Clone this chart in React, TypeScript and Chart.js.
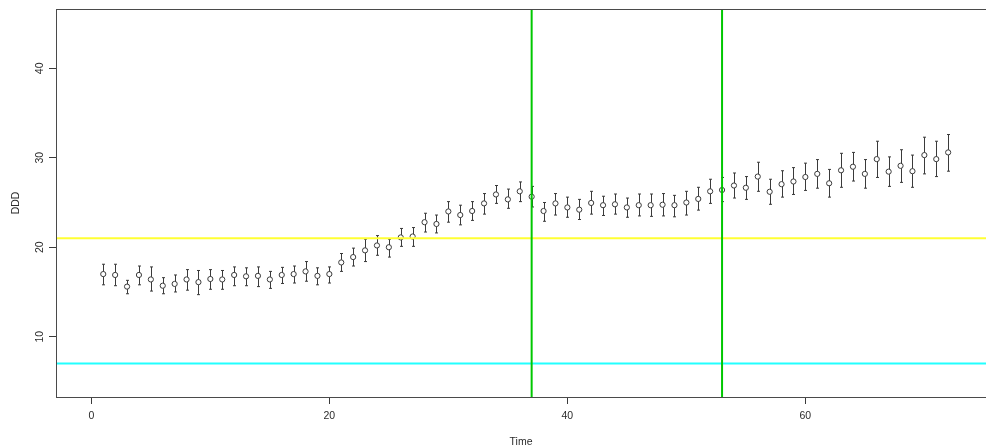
import { useEffect, useRef } from "react";
import { Chart, registerables } from "chart.js";

Chart.register(...registerables);

// Mean DDD per time step, with the lower and upper ends of each interval
const meanDDD = [
  17.0, 16.9, 15.6, 16.9, 16.4, 15.7, 15.9, 16.4, 16.1, 16.45,
  16.4, 16.9, 16.75, 16.8, 16.4, 16.9, 17.0, 17.3, 16.8, 17.0,
  18.3, 18.9, 19.65, 20.2, 20.0, 21.1, 21.2, 22.8, 22.6, 24.0,
  23.6, 24.05, 24.9, 25.9, 25.35, 26.25, 25.65, 24.05, 24.9, 24.45,
  24.2, 24.95, 24.7, 24.8, 24.45, 24.7, 24.7, 24.75, 24.7, 25.0,
  25.4, 26.25, 26.4, 26.9, 26.65, 27.9, 26.2, 27.05, 27.35, 27.85,
  28.2, 27.15, 28.6, 29.0, 28.2, 29.85, 28.45, 29.1, 28.5, 30.3,
  29.85, 30.6,
];
const lowerDDD = [
  15.8, 15.7, 14.8, 15.8, 15.1, 14.8, 15.0, 15.2, 14.7, 15.3,
  15.3, 15.7, 15.7, 15.6, 15.4, 15.95, 16.0, 16.2, 15.8, 16.0,
  17.3, 17.9, 18.4, 19.1, 18.9, 20.1, 20.1, 21.7, 21.6, 22.8,
  22.5, 23.0, 23.7, 24.9, 24.35, 25.1, 24.5, 22.9, 23.6, 23.35,
  23.1, 23.7, 23.55, 23.7, 23.35, 23.5, 23.45, 23.5, 23.4, 23.6,
  24.15, 24.9, 25.1, 25.5, 25.35, 26.25, 24.8, 25.6, 25.9, 26.35,
  26.6, 25.6, 26.7, 27.4, 26.6, 27.8, 26.8, 27.25, 26.7, 28.2,
  27.9, 28.5,
];
const upperDDD = [
  18.1, 18.1, 16.3, 17.9, 17.8, 16.6, 16.9, 17.5, 17.4, 17.5,
  17.4, 17.8, 17.7, 17.8, 17.3, 17.75, 17.9, 18.4, 17.7, 17.8,
  19.3, 19.9, 20.9, 21.3, 20.9, 22.1, 22.2, 23.8, 23.6, 25.1,
  24.7, 25.1, 26.0, 26.9, 26.5, 27.3, 26.8, 25.0, 26.0, 25.6,
  25.35, 26.25, 25.7, 25.95, 25.5, 25.95, 25.95, 26.0, 25.8, 26.25,
  26.7, 27.6, 27.8, 28.3, 27.9, 29.5, 27.6, 28.55, 28.9, 29.4,
  29.8, 28.7, 30.5, 30.6, 29.8, 31.85, 30.1, 30.9, 30.3, 32.3,
  31.85, 32.6,
];
// time steps 1..n
const timePoints = meanDDD.map((_, i) => i + 1);

const xTicks = [0, 20, 40, 60];
const yTicks = [10, 20, 30, 40];

const upperLimit = 21;
const lowerLimit = 7;
const breakTimes = [37, 53];

const X_MIN = -2.97;
const X_MAX = 75.18;
const Y_MIN = 3.26;
const Y_MAX = 46.63;

const FONT = { family: '"Liberation Sans", Arial, sans-serif', size: 10.5 };
const TEXT = "#2b2b2b";
const INK = "#3a3a3a";

// Interval whiskers with small caps, placed through the chart scales
const errorBars = {
  id: "errorBars",
  beforeDatasetsDraw(chart: any) {
    const { ctx } = chart;
    const x = chart.scales.x;
    const y = chart.scales.y;
    ctx.save();
    ctx.strokeStyle = INK;
    ctx.lineWidth = 1;
    timePoints.forEach((t, i) => {
      const px = Math.round(x.getPixelForValue(t)) + 0.5;
      const top = y.getPixelForValue(upperDDD[i]);
      const bot = y.getPixelForValue(lowerDDD[i]);
      ctx.beginPath();
      ctx.moveTo(px, top);
      ctx.lineTo(px, bot);
      ctx.moveTo(px - 1.5, top);
      ctx.lineTo(px + 1.5, top);
      ctx.moveTo(px - 1.5, bot);
      ctx.lineTo(px + 1.5, bot);
      ctx.stroke();
    });
    ctx.restore();
  },
};

// Frame around the plotting region (right side runs past the canvas edge)
const frame = {
  id: "frame",
  afterDatasetsDraw(chart: any) {
    const { ctx, chartArea } = chart;
    ctx.save();
    ctx.strokeStyle = "#4a4a4a";
    ctx.lineWidth = 1;
    ctx.strokeRect(
      Math.round(chartArea.left) + 0.5,
      Math.round(chartArea.top) + 0.5,
      chartArea.right - chartArea.left + 40,
      Math.round(chartArea.bottom - chartArea.top)
    );
    ctx.restore();
  },
};

const refLine = (color: string, data: { x: number; y: number }[]) => ({
  type: "line" as const,
  data,
  showLine: true,
  borderColor: color,
  borderWidth: 2,
  pointRadius: 0,
  fill: false,
});

export default function App() {
  const canvasRef = useRef<HTMLCanvasElement>(null);

  useEffect(() => {
    document.body.style.margin = "0";
    const canvas = canvasRef.current;
    if (!canvas) return;

    const chart = new Chart(canvas, {
      type: "scatter",
      data: {
        datasets: [
          ...breakTimes.map((t) =>
            refLine("#00c800", [
              { x: t, y: Y_MIN },
              { x: t, y: Y_MAX },
            ])
          ),
          refLine("#ffff33", [
            { x: X_MIN, y: upperLimit },
            { x: X_MAX, y: upperLimit },
          ]),
          refLine("#22ffff", [
            { x: X_MIN, y: lowerLimit },
            { x: X_MAX, y: lowerLimit },
          ]),
          {
            type: "scatter" as const,
            data: timePoints.map((t, i) => ({ x: t, y: meanDDD[i] })),
            pointRadius: 2.6,
            pointBorderWidth: 1,
            pointBackgroundColor: "#ffffff",
            pointBorderColor: INK,
          },
        ] as any,
      },
      options: {
        animation: false,
        responsive: false,
        devicePixelRatio: 1,
        layout: {
          autoPadding: false,
          padding: { top: 9, right: 0, bottom: 0, left: 0 },
        },
        plugins: {
          legend: { display: false },
          tooltip: { enabled: false },
        },
        scales: {
          x: {
            type: "linear",
            min: X_MIN,
            max: X_MAX,
            afterBuildTicks: (s: any) => {
              s.ticks = xTicks.map((v) => ({ value: v }));
            },
            afterFit: (s: any) => {
              s.height = 51;
              s.paddingLeft = 0;
              s.paddingRight = 0;
            },
            border: { display: false },
            grid: {
              display: true,
              drawOnChartArea: false,
              drawTicks: true,
              tickLength: 7,
              color: INK,
              tickColor: INK,
            },
            ticks: {
              color: TEXT,
              font: FONT,
              padding: 6,
              maxRotation: 0,
              autoSkip: false,
            },
            title: {
              display: true,
              text: "Time",
              color: TEXT,
              font: FONT,
              padding: { top: 0, bottom: 0 },
            },
          },
          y: {
            type: "linear",
            min: Y_MIN,
            max: Y_MAX,
            afterBuildTicks: (s: any) => {
              s.ticks = yTicks.map((v) => ({ value: v }));
            },
            afterFit: (s: any) => {
              s.width = 56;
              s.paddingTop = 0;
              s.paddingBottom = 0;
            },
            border: { display: false },
            grid: {
              display: true,
              drawOnChartArea: false,
              drawTicks: true,
              tickLength: 7,
              color: INK,
              tickColor: INK,
            },
            ticks: {
              color: TEXT,
              font: FONT,
              padding: 3,
              minRotation: 90,
              maxRotation: 90,
              crossAlign: "center",
              autoSkip: false,
            },
            title: {
              display: true,
              text: "DDD",
              color: TEXT,
              font: FONT,
              padding: { top: 10, bottom: 0 },
            },
          },
        },
      },
      plugins: [errorBars, frame],
    });

    return () => chart.destroy();
  }, []);

  return (
    <div style={{ width: 986, height: 448, background: "#ffffff" }}>
      <canvas
        ref={canvasRef}
        width={986}
        height={448}
        style={{ display: "block", width: 986, height: 448 }}
      />
    </div>
  );
}
